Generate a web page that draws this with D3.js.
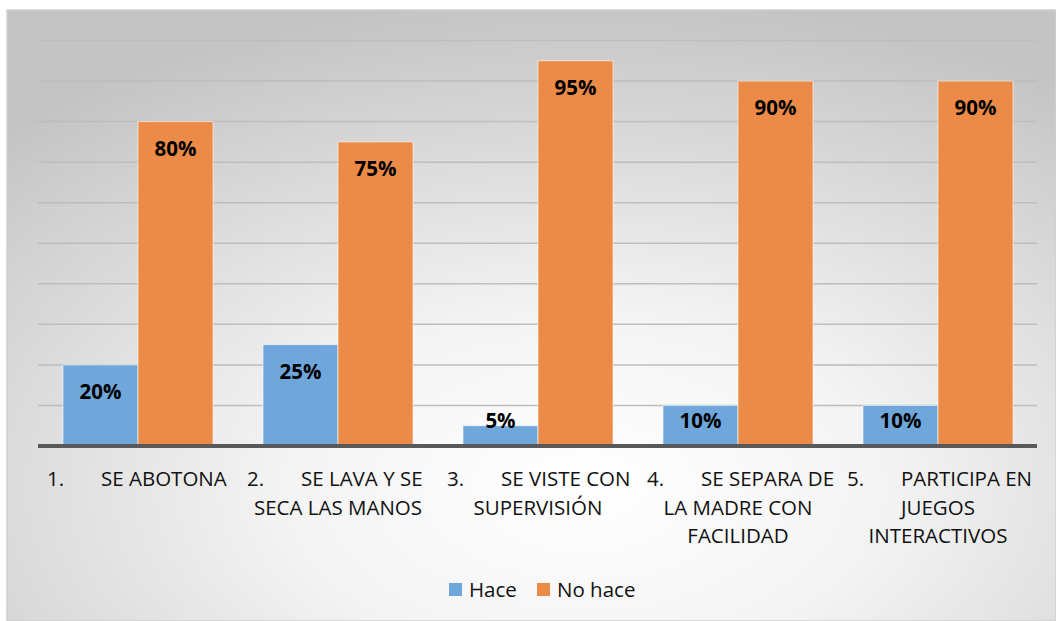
<!DOCTYPE html>
<html><head><meta charset="utf-8">
<script src="https://cdn.jsdelivr.net/npm/d3@7"></script>
<style>html,body{margin:0;padding:0;background:#fff;}svg{display:block;}</style>
</head><body>
<script>
const categories = ["1","2","3","4","5"];
const categoryNumbers = ["1.","2.","3.","4.","5."];
const categoryFirstLine = ["SE ABOTONA","SE LAVA Y SE","SE VISTE CON","SE SEPARA DE","PARTICIPA EN"];
const categoryMoreLines = [[],["SECA LAS MANOS"],["SUPERVISIÓN"],["LA MADRE CON","FACILIDAD"],["JUEGOS","INTERACTIVOS"]];
const seriesNames = ["Hace","No hace"];
const hace = [0.20,0.25,0.05,0.10,0.10];
const noHace = [0.80,0.75,0.95,0.90,0.90];
const yTicks = [0,0.1,0.2,0.3,0.4,0.5,0.6,0.7,0.8,0.9,1.0];
const colors = ["#6fa7da","#ec8a48"];

const W = 1056, H = 621;
const svg = d3.select("body").append("svg").attr("width", W).attr("height", H);
const defs = svg.append("defs");
const grad = defs.append("radialGradient").attr("id","bg")
  .attr("cx","55%").attr("cy","78%").attr("r","80%");
grad.append("stop").attr("offset","0%").attr("stop-color","#ffffff");
grad.append("stop").attr("offset","35%").attr("stop-color","#f4f4f4");
grad.append("stop").attr("offset","100%").attr("stop-color","#c4c4c4");

svg.append("rect").attr("x",7).attr("y",10).attr("width",W-7).attr("height",H-10)
  .attr("fill","url(#bg)").attr("stroke","#cfcfcf").attr("stroke-width",1.5);

const x = d3.scaleBand().domain(categories).range([38,1038]).paddingInner(0.25).paddingOuter(0.125);
const xs = d3.scaleBand().domain(seriesNames).range([0, x.bandwidth()]);
const y = d3.scaleLinear().domain([0,1]).range([446, 40.5]);

// gridlines
svg.append("g").selectAll("line").data(yTicks.filter(d=>d>0)).join("line")
  .attr("x1",38).attr("x2",1037).attr("y1",d=>y(d)).attr("y2",d=>y(d))
  .attr("stroke","#bdbdbd").attr("stroke-width",1.5);

const rows = categories.map((c,i)=>({c, i, vals:[hace[i], noHace[i]]}));
const g = svg.append("g");
rows.forEach(r=>{
  r.vals.forEach((v,k)=>{
    const bx = x(r.c) + xs(seriesNames[k]);
    g.append("rect").attr("x",bx).attr("y",y(v)).attr("width",xs.bandwidth()).attr("height",y(0)-y(v))
      .attr("fill",colors[k]).attr("stroke","#ffffff").attr("stroke-opacity",0.6).attr("stroke-width",1);
    g.append("text").attr("x",bx+xs.bandwidth()/2).attr("y",Math.min(y(v)+34, y(0)-18))
      .attr("text-anchor","middle").attr("font-family","Open Sans").attr("font-weight","bold")
      .attr("font-size",20.5).attr("fill","#000").text(Math.round(v*100)+"%");
  });
});

// baseline
svg.append("line").attr("x1",38).attr("x2",1037).attr("y1",y(0)).attr("y2",y(0))
  .attr("stroke","#595959").attr("stroke-width",4);

// category labels
const lab = svg.append("g").attr("font-family","Open Sans").attr("font-size",20.5).attr("fill","#111");
categories.forEach((c,i)=>{
  const cx = x(c) + x.bandwidth()/2;
  lab.append("text").attr("x",cx-91).attr("y",486).text(categoryNumbers[i]);
  lab.append("text").attr("x",cx-37).attr("y",486).text(categoryFirstLine[i]);
  categoryMoreLines[i].forEach((t,j)=>{
    lab.append("text").attr("x",cx).attr("y",486+28.7*(j+1)).attr("text-anchor","middle").text(t);
  });
});

// legend
const leg = svg.append("g").attr("font-family","Open Sans").attr("font-size",20.5).attr("fill","#111");
const legX = [449, 537];
seriesNames.forEach((s,k)=>{
  leg.append("rect").attr("x",legX[k]).attr("y",583).attr("width",13).attr("height",13).attr("fill",colors[k]);
  leg.append("text").attr("x",legX[k]+20).attr("y",597).text(s);
});
</script>
</body></html>
